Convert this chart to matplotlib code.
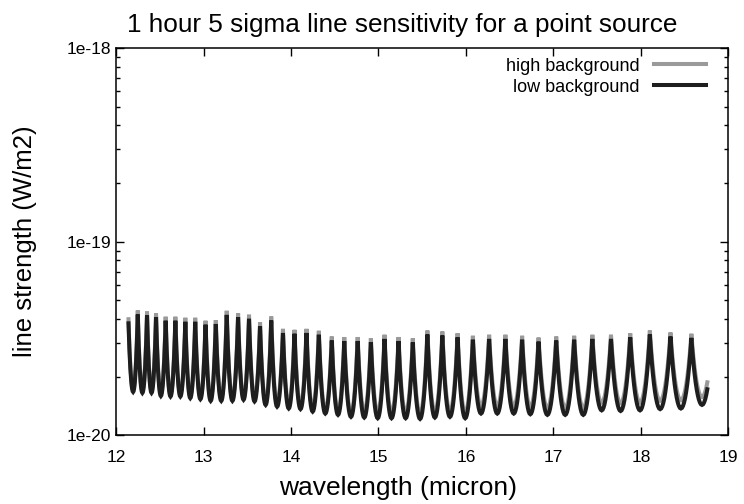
import numpy as np
import matplotlib.pyplot as plt
from matplotlib.ticker import FixedLocator, FuncFormatter, LogLocator, NullFormatter

plt.rcParams['font.family'] = ['Liberation Sans', 'DejaVu Sans']

# echelle order edges (micron): the cusps of the curve, last entry = nominal edge of the cut order
order_edges = [12.142, 12.248, 12.354, 12.457, 12.567, 12.678, 12.792, 12.905, 13.023, 13.140,
               13.265, 13.395, 13.520, 13.646, 13.774, 13.908, 14.040, 14.177, 14.318, 14.466,
               14.609, 14.762, 14.913, 15.069, 15.229, 15.392, 15.559, 15.730, 15.904, 16.079,
               16.265, 16.451, 16.642, 16.830, 17.032, 17.237, 17.445, 17.658, 17.878, 18.102,
               18.338, 18.577, 18.820]
wl_end = 18.76

# line strength at the order edges (1e-20 W/m2)
edge_high = [3.97, 4.41, 4.35, 4.27, 4.09, 4.09, 4.04, 4.04, 3.90, 3.93, 4.39, 4.27, 4.19, 3.83,
             4.10, 3.54, 3.50, 3.54, 3.46, 3.23, 3.21, 3.21, 3.17, 3.30, 3.21, 3.16, 3.47, 3.43,
             3.36, 3.26, 3.30, 3.30, 3.26, 3.19, 3.23, 3.26, 3.30, 3.30, 3.36, 3.47, 3.39, 3.34, 3.34]
edge_low = [3.78, 4.20, 4.15, 4.07, 3.90, 3.90, 3.85, 3.85, 3.72, 3.75, 4.18, 4.07, 3.99, 3.65,
            3.91, 3.37, 3.34, 3.37, 3.30, 3.08, 3.06, 3.06, 3.02, 3.14, 3.06, 3.01, 3.31, 3.27,
            3.20, 3.11, 3.14, 3.14, 3.11, 3.04, 3.08, 3.11, 3.14, 3.14, 3.20, 3.31, 3.23, 3.18, 3.18]

# minimum at the order centres (1e-20 W/m2)
valley_high = [1.72, 1.70, 1.70, 1.64, 1.63, 1.63, 1.60, 1.58, 1.55, 1.55, 1.55, 1.57, 1.56, 1.50,
               1.47, 1.44, 1.43, 1.39, 1.35, 1.33, 1.30, 1.32, 1.31, 1.31, 1.31, 1.29, 1.32, 1.33,
               1.31, 1.41, 1.41, 1.41, 1.40, 1.38, 1.38, 1.38, 1.47, 1.46, 1.47, 1.50, 1.51, 1.57]
valley_low = [1.67, 1.65, 1.65, 1.59, 1.58, 1.58, 1.55, 1.53, 1.50, 1.50, 1.50, 1.52, 1.49, 1.43,
              1.40, 1.37, 1.36, 1.32, 1.29, 1.27, 1.24, 1.23, 1.22, 1.22, 1.22, 1.21, 1.23, 1.24,
              1.22, 1.29, 1.29, 1.29, 1.28, 1.27, 1.27, 1.27, 1.34, 1.33, 1.34, 1.36, 1.37, 1.43]

# blaze profile: distance from order centre (order widths) vs fraction of the log rise
blaze_u = [0.0, 0.05, 0.10, 0.15, 0.20, 0.25, 0.30, 0.35, 0.40, 0.45, 0.50]
blaze_rise = [0.0, 0.009, 0.037, 0.083, 0.148, 0.233, 0.338, 0.466, 0.617, 0.794, 1.0]


def build_curve(edge_vals, valley_vals):
    u = np.array(blaze_u)
    r = np.array(blaze_rise)
    pos = np.concatenate([0.5 - u[::-1], 0.5 + u[1:]])
    xs, ys = [], []
    for i in range(len(valley_vals)):
        a, b = order_edges[i], order_edges[i + 1]
        lv = np.log10(valley_vals[i])
        left = lv + (np.log10(edge_vals[i]) - lv) * r[::-1]
        right = lv + (np.log10(edge_vals[i + 1]) - lv) * r[1:]
        xs.append(a + pos * (b - a))
        ys.append(np.concatenate([left, right]))
    x = np.concatenate(xs)
    y = 10 ** np.concatenate(ys) * 1e-20
    keep = x <= wl_end + 1e-6
    return x[keep], y[keep]


xh, yh = build_curve(edge_high, valley_high)
xl, yl = build_curve(edge_low, valley_low)

fig = plt.figure(figsize=(7.44, 5.04), dpi=100)
ax = fig.add_axes([0.156, 0.137, 0.823, 0.767])

ax.plot(xh, yh, color='#9a9a9a', lw=2.9, label='high background', solid_joinstyle='miter')
ax.plot(xl, yl, color='#1e1e1e', lw=2.9, label='low background', solid_joinstyle='miter')

ax.set_yscale('log')
ax.set_xlim(12, 19)
ax.set_ylim(1e-20, 1e-18)
ax.xaxis.set_major_locator(FixedLocator(range(12, 20)))
ax.yaxis.set_major_locator(FixedLocator([1e-20, 1e-19, 1e-18]))
ax.yaxis.set_major_formatter(FuncFormatter(lambda v, p: '1e%d' % round(np.log10(v))))
ax.yaxis.set_minor_locator(LogLocator(base=10, subs=np.arange(2, 10)))
ax.yaxis.set_minor_formatter(NullFormatter())
ax.tick_params(which='both', direction='in', top=True, right=True, labelsize=12.5)
ax.tick_params(which='major', length=6, width=1)
ax.tick_params(which='minor', length=3, width=1)
ax.tick_params(axis='x', pad=11)
for s in ax.spines.values():
    s.set_linewidth(1.1)

ax.set_title('1 hour 5 sigma line sensitivity for a point source', fontsize=18.8, pad=12, x=0.467)
ax.set_xlabel('wavelength (micron)', fontsize=19, labelpad=8, x=0.46)
ax.set_ylabel('line strength (W/m2)', fontsize=18.5, labelpad=21)

ax.legend(loc='upper right', bbox_to_anchor=(0.964, 0.976), frameon=False, markerfirst=False,
          fontsize=13, handlelength=2.9, handletextpad=0.8, labelspacing=0.22,
          borderaxespad=0, borderpad=0)

fig.savefig('out.png', dpi=100)
